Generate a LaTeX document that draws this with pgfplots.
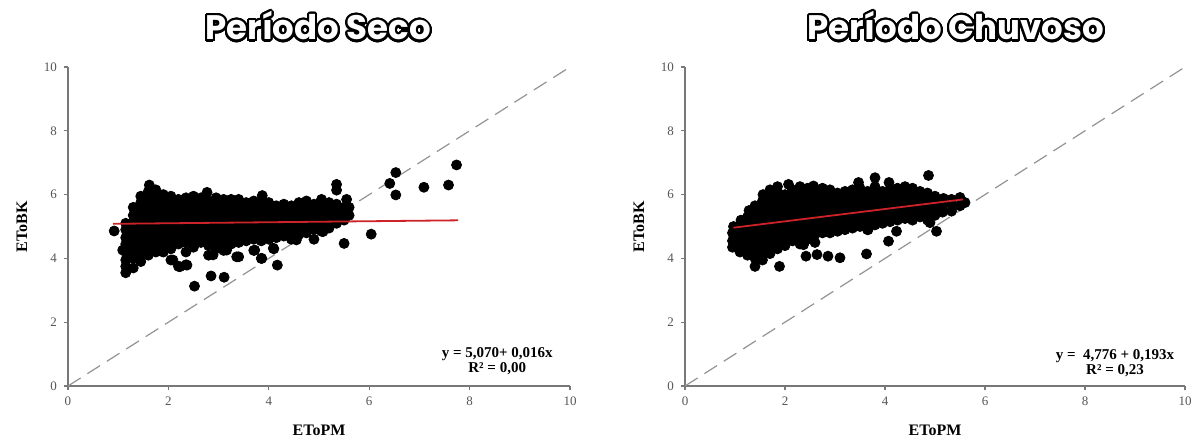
\documentclass[border=0pt]{standalone}
\usepackage{fontspec}
\setmainfont{Liberation Serif}
\newfontfamily\titlefont{Poppins}
\usepackage{pgfplots}
\pgfplotsset{compat=1.18}
\usepackage[copies]{contour}
\contourlength{1.1pt}
\contournumber{32}

\definecolor{axisgray}{RGB}{120,120,120}
\definecolor{tickgray}{RGB}{85,85,85}
\definecolor{fitred}{RGB}{205,35,40}

\pgfplotsset{
  panel/.style={
    scale only axis, width=251pt, height=159.5pt,
    xmin=0, xmax=10, ymin=0, ymax=10,
    xtick={0,2,...,10}, ytick={0,2,...,10},
    axis lines=left, axis line style={axisgray, line width=0.75pt, -},
    tick align=outside, major tick length=2pt,
    tick style={axisgray, line width=0.6pt},
    /pgf/number format/assume math mode=true,
    ticklabel style={font=\fontsize{6.5}{7}\selectfont, text=tickgray},
    clip=false, clip marker paths=true,
  },
  dots/.style={only marks, mark=*, mark size=2.5pt, black, mark options={fill=black, draw=black}},
  oneone/.style={no marks, draw=gray!85, line width=0.6pt, dash pattern=on 7.5pt off 4pt},
  fit/.style={no marks, draw=fitred, line width=0.9pt},
}

% outlined heading
\newcommand{\paneltitle}[1]{\contour{black}{\textcolor{white}{\titlefont\bfseries\fontsize{17}{20}\selectfont #1}}}
\newcommand{\axlabel}[1]{{\fontsize{8}{9}\selectfont\bfseries #1}}

\begin{document}
\begin{tikzpicture}
\useasboundingbox (-34pt,-27.5pt) rectangle (566pt,193pt);

% ---------- dry season ----------
\begin{axis}[panel, at={(0,0)}, anchor=south west]
\addplot[oneone] coordinates {(0,0) (10,10)};
\addplot[dots] coordinates {
(1.15,3.55) (1.15,3.75) (1.15,3.95) (1.15,4.2) (1.15,4.45) (1.15,4.65) (1.15,4.9) (1.15,5.1)
(1.3,3.7) (1.3,4.0) (1.3,4.25) (1.3,4.5) (1.3,4.7) (1.3,4.95) (1.3,5.15) (1.3,5.35) (1.3,5.6)
(1.45,3.9) (1.45,4.15) (1.45,4.4) (1.45,4.6) (1.45,4.85) (1.45,5.05) (1.45,5.3) (1.45,5.5) (1.45,5.75) (1.45,5.95)
(1.6,4.1) (1.6,4.35) (1.6,4.55) (1.6,4.8) (1.6,5.0) (1.6,5.2) (1.6,5.45) (1.6,5.65) (1.6,5.85) (1.6,6.1) (1.62,6.3)
(1.75,4.2) (1.75,4.45) (1.75,4.65) (1.75,4.9) (1.75,5.1) (1.75,5.3) (1.75,5.5) (1.75,5.7) (1.75,5.9) (1.75,6.15)
(1.9,4.2) (1.9,4.4) (1.9,4.6) (1.9,4.85) (1.9,5.05) (1.9,5.25) (1.9,5.45) (1.9,5.65) (1.9,5.85) (1.9,6.0)
(2.05,3.95) (2.05,4.3) (2.05,4.55) (2.05,4.75) (2.05,4.95) (2.05,5.15) (2.05,5.35) (2.05,5.55) (2.05,5.75) (2.05,5.95)
(2.2,3.75) (2.2,4.45) (2.2,4.65) (2.2,4.85) (2.2,5.05) (2.2,5.25) (2.2,5.45) (2.2,5.65) (2.2,5.85)
(2.35,3.8) (2.35,4.2) (2.35,4.5) (2.35,4.7) (2.35,4.9) (2.35,5.1) (2.35,5.3) (2.35,5.5) (2.35,5.7) (2.35,5.9)
(2.5,4.35) (2.5,4.55) (2.5,4.75) (2.5,4.95) (2.5,5.15) (2.5,5.35) (2.5,5.55) (2.5,5.75) (2.5,5.95)
(2.65,4.5) (2.65,4.7) (2.65,4.9) (2.65,5.1) (2.65,5.3) (2.65,5.5) (2.65,5.7) (2.65,5.9)
(2.8,4.1) (2.8,4.4) (2.8,4.6) (2.8,4.8) (2.8,5.0) (2.8,5.2) (2.8,5.4) (2.8,5.6) (2.8,5.8) (2.77,6.07)
(2.95,4.3) (2.95,4.55) (2.95,4.75) (2.95,4.95) (2.95,5.15) (2.95,5.35) (2.95,5.55) (2.95,5.75) (2.95,5.9)
(3.1,4.25) (3.1,4.5) (3.1,4.7) (3.1,4.9) (3.1,5.1) (3.1,5.3) (3.1,5.5) (3.1,5.7) (3.1,5.85)
(3.25,4.45) (3.25,4.65) (3.25,4.85) (3.25,5.05) (3.25,5.25) (3.25,5.45) (3.25,5.65) (3.25,5.85)
(3.4,4.05) (3.4,4.5) (3.4,4.7) (3.4,4.9) (3.4,5.1) (3.4,5.3) (3.4,5.5) (3.4,5.7) (3.4,5.85)
(3.55,4.55) (3.55,4.75) (3.55,4.95) (3.55,5.15) (3.55,5.35) (3.55,5.55) (3.55,5.75)
(3.7,4.25) (3.7,4.6) (3.7,4.8) (3.7,5.0) (3.7,5.2) (3.7,5.4) (3.7,5.6) (3.7,5.8)
(3.85,4.0) (3.85,4.55) (3.85,4.75) (3.85,4.95) (3.85,5.15) (3.85,5.35) (3.85,5.55) (3.85,5.75) (3.87,5.97)
(4.0,4.6) (4.0,4.8) (4.0,5.0) (4.0,5.2) (4.0,5.4) (4.0,5.6) (4.0,5.75) (4.1,4.3)
(4.15,4.65) (4.15,4.85) (4.15,5.05) (4.15,5.25) (4.15,5.45) (4.15,5.65)
(4.3,4.7) (4.3,4.9) (4.3,5.1) (4.3,5.3) (4.3,5.5) (4.3,5.7)
(4.45,4.6) (4.45,4.85) (4.45,5.05) (4.45,5.25) (4.45,5.45) (4.45,5.65)
(4.6,4.75) (4.6,4.95) (4.6,5.15) (4.6,5.35) (4.6,5.55) (4.6,5.75) (4.55,4.58)
(4.75,4.8) (4.75,5.0) (4.75,5.2) (4.75,5.4) (4.75,5.6) (4.75,5.8)
(4.9,4.6) (4.9,4.9) (4.9,5.1) (4.9,5.3) (4.9,5.5) (4.9,5.7)
(5.05,4.85) (5.05,5.05) (5.05,5.25) (5.05,5.45) (5.05,5.65) (5.05,5.85)
(5.2,4.95) (5.2,5.15) (5.2,5.35) (5.2,5.55) (5.2,5.75)
(5.35,5.1) (5.35,5.3) (5.35,5.5) (5.35,5.7) (5.35,6.14) (5.35,6.32)
(5.5,5.2) (5.5,5.4) (5.5,5.6) (5.55,5.85) (5.6,5.35) (5.6,5.6)
(0.92,4.86) (1.09,4.26) (1.89,4.21) (2.09,3.95) (2.23,3.74) (2.37,3.79)
(2.89,4.11) (3.16,4.26) (3.36,4.05) (3.72,4.26) (3.86,4.0) (4.09,4.32)
(2.52,3.13) (2.85,3.45) (3.11,3.41) (4.17,3.79) (5.50,4.47) (5.08,4.84)
(6.04,4.76) (6.41,6.35) (6.53,6.69) (6.53,5.99) (7.09,6.23) (7.58,6.30) (7.74,6.93)
};
\addplot[fit] coordinates {(0.90,5.084) (7.77,5.194)};
\node[align=center, font=\fontsize{7.5}{8.5}\selectfont\bfseries] at (axis cs:8.55,0.78)
  {y = 5,070+ 0,016x\\[-1pt]R² = 0,00};
\node at ([yshift=-22pt]axis description cs:0.5,0) {\axlabel{EToPM}};
\node[rotate=90] at ([xshift=-23pt]axis description cs:0,0.5) {\axlabel{EToBK}};
\end{axis}
\node at (125pt,179.5pt) {\paneltitle{Período Seco}};

% ---------- rainy season ----------
\begin{axis}[panel, at={(308.5pt,0)}, anchor=south west, width=250pt]
\addplot[oneone] coordinates {(0,0) (10,10)};
\addplot[dots] coordinates {
(0.95,4.35) (0.95,4.55) (0.95,4.8) (0.97,5.0)
(1.1,4.2) (1.1,4.4) (1.1,4.6) (1.1,4.85) (1.1,5.05) (1.12,5.2)
(1.25,4.1) (1.25,4.3) (1.25,4.5) (1.25,4.7) (1.25,4.9) (1.25,5.1) (1.25,5.3) (1.28,5.5)
(1.4,3.75) (1.4,4.0) (1.4,4.25) (1.4,4.45) (1.4,4.65) (1.4,4.85) (1.4,5.05) (1.4,5.25) (1.4,5.45) (1.4,5.65)
(1.55,3.95) (1.55,4.2) (1.55,4.4) (1.55,4.6) (1.55,4.8) (1.55,5.0) (1.55,5.2) (1.55,5.4) (1.55,5.6) (1.55,5.8) (1.56,6.0)
(1.7,4.15) (1.7,4.35) (1.7,4.55) (1.7,4.75) (1.7,4.95) (1.7,5.15) (1.7,5.35) (1.7,5.55) (1.7,5.75) (1.7,5.95) (1.7,6.15)
(1.89,3.75) (1.85,4.3) (1.85,4.5) (1.85,4.7) (1.85,4.9) (1.85,5.1) (1.85,5.3) (1.85,5.5) (1.85,5.7) (1.85,5.9) (1.85,6.1) (1.85,6.25)
(2.0,4.4) (2.0,4.6) (2.0,4.8) (2.0,5.0) (2.0,5.2) (2.0,5.4) (2.0,5.6) (2.0,5.8) (2.0,6.0) (2.07,6.32)
(2.15,4.55) (2.15,4.75) (2.15,4.95) (2.15,5.15) (2.15,5.35) (2.15,5.55) (2.15,5.75) (2.15,5.95) (2.15,6.15)
(2.3,4.45) (2.3,4.65) (2.3,4.85) (2.3,5.05) (2.3,5.25) (2.3,5.45) (2.3,5.65) (2.3,5.85) (2.3,6.05) (2.3,6.25)
(2.42,4.07) (2.45,4.6) (2.45,4.8) (2.45,5.0) (2.45,5.2) (2.45,5.4) (2.45,5.6) (2.45,5.8) (2.45,6.0) (2.45,6.2)
(2.64,4.12) (2.6,4.5) (2.6,4.75) (2.6,4.95) (2.6,5.15) (2.6,5.35) (2.6,5.55) (2.6,5.75) (2.6,5.95) (2.6,6.15) (2.57,6.27)
(2.75,4.8) (2.75,5.0) (2.75,5.2) (2.75,5.4) (2.75,5.6) (2.75,5.8) (2.75,6.0) (2.75,6.2)
(2.86,4.07) (2.9,4.8) (2.9,5.0) (2.9,5.2) (2.9,5.4) (2.9,5.6) (2.9,5.8) (2.9,6.0) (2.9,6.15)
(3.05,4.85) (3.05,5.05) (3.05,5.25) (3.05,5.45) (3.05,5.65) (3.05,5.85) (3.05,6.05) (3.1,4.02)
(3.2,4.9) (3.2,5.1) (3.2,5.3) (3.2,5.5) (3.2,5.7) (3.2,5.9) (3.2,6.1)
(3.35,4.95) (3.35,5.15) (3.35,5.35) (3.35,5.55) (3.35,5.75) (3.35,5.95) (3.35,6.15)
(3.5,5.0) (3.5,5.2) (3.5,5.4) (3.5,5.6) (3.5,5.8) (3.5,6.0) (3.5,6.2) (3.47,6.38)
(3.63,4.14) (3.65,4.9) (3.65,5.1) (3.65,5.3) (3.65,5.5) (3.65,5.7) (3.65,5.9) (3.65,6.1)
(3.8,5.05) (3.8,5.25) (3.8,5.45) (3.8,5.65) (3.8,5.85) (3.8,6.05) (3.8,6.25) (3.8,6.53)
(3.95,5.1) (3.95,5.3) (3.95,5.5) (3.95,5.7) (3.95,5.9) (3.95,6.1)
(4.07,4.54) (4.08,6.38) (4.1,5.15) (4.1,5.35) (4.1,5.55) (4.1,5.75) (4.1,5.95) (4.1,6.15)
(4.23,4.85) (4.25,5.2) (4.25,5.4) (4.25,5.6) (4.25,5.8) (4.25,6.0) (4.25,6.2)
(4.4,5.25) (4.4,5.45) (4.4,5.65) (4.4,5.85) (4.4,6.05) (4.4,6.25)
(4.55,5.2) (4.55,5.4) (4.55,5.6) (4.55,5.8) (4.55,6.0) (4.55,6.2)
(4.7,5.3) (4.7,5.5) (4.7,5.7) (4.7,5.9) (4.7,6.1)
(4.85,5.2) (4.85,5.45) (4.85,5.65) (4.85,5.85) (4.85,6.05) (4.87,6.6) (4.9,5.12)
(5.0,5.35) (5.0,5.55) (5.0,5.75) (5.0,5.95) (5.03,4.85)
(5.15,5.45) (5.15,5.65) (5.17,5.88)
(5.33,5.48) (5.33,5.7) (5.33,5.85) (5.5,5.65) (5.5,5.91) (5.6,5.75)
(3.66,4.9) (2.37,4.43) (2.23,4.59)
};
\addplot[fit] coordinates {(0.97,4.963) (5.56,5.849)};
\node[align=center, font=\fontsize{7.5}{8.5}\selectfont\bfseries] at (axis cs:8.6,0.72)
  {y = \ 4,776 + 0,193x\\[-1pt]R² = 0,23};
\node at ([yshift=-22pt]axis description cs:0.5,0) {\axlabel{EToPM}};
\node[rotate=90] at ([xshift=-23pt]axis description cs:0,0.5) {\axlabel{EToBK}};
\end{axis}
\node at (444pt,179.5pt) {\paneltitle{Período Chuvoso}};
\end{tikzpicture}
\end{document}
